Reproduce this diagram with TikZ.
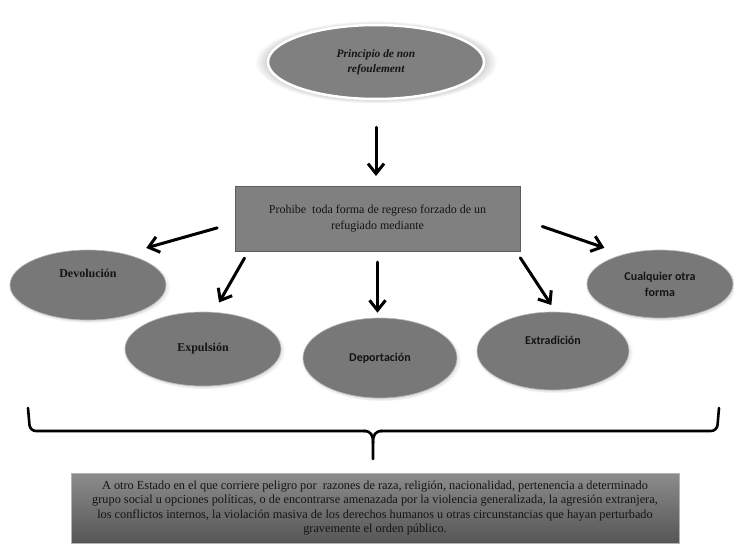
\documentclass[tikz,border=0pt]{standalone}
\usepackage{fontspec}
\setmainfont{Liberation Serif}
\newfontfamily\calibri{Carlito}
\usetikzlibrary{arrows.meta,shapes.geometric,shadows}

\definecolor{boxgray}{RGB}{128,128,128}
\definecolor{ovalgray}{RGB}{120,120,120}
\definecolor{edgegray}{RGB}{92,92,92}
\definecolor{inkgray}{RGB}{20,20,20}

\tikzset{
	oval/.style={ellipse, fill=ovalgray, draw=gray!55, line width=0.6pt, inner sep=0pt, align=center,
		text=inkgray, font=\rmfamily\bfseries\fontsize{12}{15}\selectfont,
		circular drop shadow={shadow xshift=1pt, shadow yshift=-1.5pt, shadow scale=1.04, opacity=.5}},
	ovalsans/.style={oval, font=\calibri\bfseries\fontsize{12}{16}\selectfont},
	flecha/.style={-{Straight Barb[length=10pt, width=16pt]}, line width=3pt, line cap=round}
}

\begin{document}
\begin{tikzpicture}[x=1pt, y=-1pt]
	\useasboundingbox (0,0) rectangle (734,546);

	% principio
	\node[ellipse, fill=boxgray, draw=white, line width=2.5pt, minimum width=216pt, minimum height=74pt,
		align=center, text=inkgray, font=\bfseries\itshape\fontsize{11.4}{15}\selectfont,
		circular glow={fill=gray!80, shadow scale=1.12, opacity=.6}] (principio) at (376,62)
		{Principio de non\\refoulement};

	% caja central
	\node[rectangle, fill=boxgray, draw=edgegray, line width=1pt, minimum width=285pt, minimum height=65pt,
		align=center, text=inkgray, font=\fontsize{12}{16}\selectfont] (prohibe) at (377.5,219)
		{Prohibe~ toda forma de regreso forzado de un\\refugiado mediante};

	% formas de regreso
	\node[oval, minimum width=156pt, minimum height=70pt] (devolucion) at (88,285) {Devolución\\[8pt]};
	\node[oval, minimum width=156pt, minimum height=74pt] (expulsion) at (203,349) {Expulsión};
	\node[ovalsans, minimum width=154pt, minimum height=80pt] (deportacion) at (380,358) {Deportación};
	\node[ovalsans, minimum width=152pt, minimum height=78pt] (extradicion) at (553,351) {Extradición\\[6pt]};
	\node[ovalsans, minimum width=146pt, minimum height=68pt] (otraforma) at (660,284) {Cualquier otra\\forma};

	% flechas
	\draw[flecha, shorten <=27pt, shorten >=10pt] (principio.south) -- (principio.south |- prohibe.north);
	\draw[flecha, shorten <=18pt, shorten >=22pt] ([yshift=-4pt]prohibe.west) -- (devolucion.40);
	\draw[flecha, shorten <=23pt, shorten >=20pt] (prohibe.east) -- (otraforma.141);
	\draw[flecha, shorten <=7pt, shorten >=11pt] ([xshift=13.5pt]prohibe.south west) -- (expulsion.74);
	\draw[flecha, shorten <=10pt, shorten >=5pt] (prohibe.south) -- (prohibe.south |- deportacion.north);
	\draw[flecha, shorten <=7pt, shorten >=8pt] ([xshift=-4pt]prohibe.south east) -- (extradicion.86);

	% llave
	\coordinate (llaveizq) at (28,408);
	\coordinate (llaveder) at (719,408);
	\coordinate (punta) at (373,459);
	\draw[line width=2.6pt, line cap=round, rounded corners=6pt]
		(llaveizq) -- (30,431) -- (366,431);
	\draw[line width=2.6pt, line cap=round, rounded corners=6pt]
		(llaveder) -- (717,431) -- (380,431);
	\draw[line width=2.6pt, line cap=round]
		(364,431) .. controls (371,431) and (373,435) .. (373,443) -- (punta);
	\draw[line width=2.6pt, line cap=round]
		(382,431) .. controls (375,431) and (373,435) .. (373,443);

	% destino
	\node[rectangle, top color={rgb,255:red,140;green,140;blue,140}, bottom color={rgb,255:red,86;green,86;blue,86},
		draw=gray!60, line width=0.6pt, minimum width=608pt, minimum height=70pt, align=center, text=inkgray,
		font=\fontsize{12.3}{14.6}\selectfont] (estado) at (375,508)
		{A otro Estado en el que corriere peligro por~ razones de raza, religión, nacionalidad, pertenencia a determinado\\
		grupo social u opciones políticas, o de encontrarse amenazada por la violencia generalizada, la agresión extranjera,\\
		los conflictos internos, la violación masiva de los derechos humanos u otras circunstancias que hayan perturbado\\
		gravemente el orden público.};
\end{tikzpicture}
\end{document}
